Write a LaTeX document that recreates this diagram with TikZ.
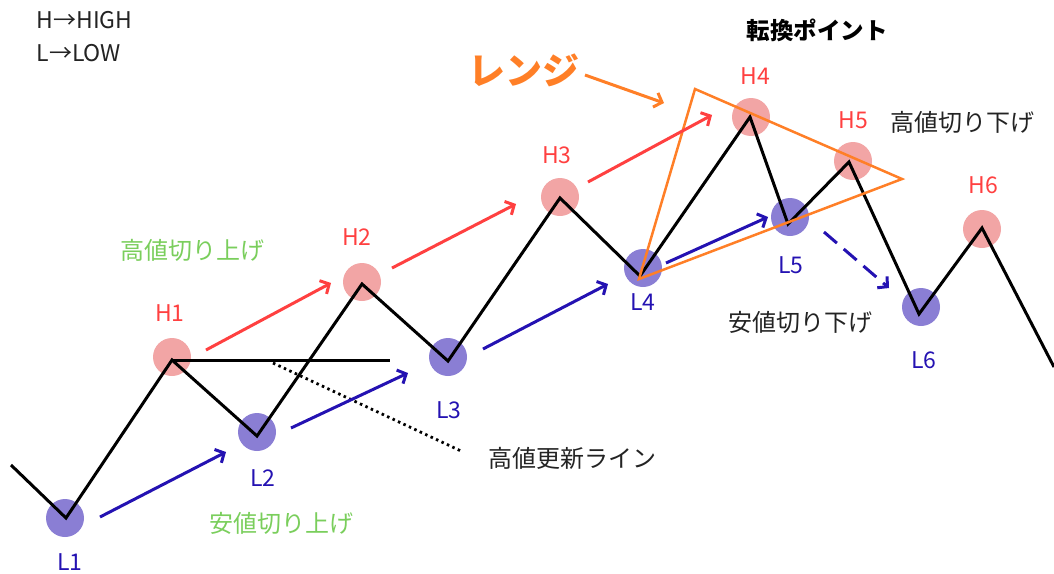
\documentclass[tikz,border=0pt]{standalone}
\usepackage{fontspec}
\setmainfont{Noto Sans CJK JP}
\usetikzlibrary{arrows.meta}
\definecolor{hred}{RGB}{255,64,64}
\definecolor{lblue}{RGB}{36,18,178}
\definecolor{hcirc}{RGB}{242,165,165}
\definecolor{lcirc}{RGB}{138,126,212}
\definecolor{upgreen}{RGB}{122,206,92}
\definecolor{rangeor}{RGB}{255,127,39}
\definecolor{txtgray}{RGB}{35,35,35}
\begin{document}
\begin{tikzpicture}[x=1pt,y=-1pt,
  hdot/.style={circle,fill=hcirc,minimum size=38pt,inner sep=0pt},
  ldot/.style={circle,fill=lcirc,minimum size=38pt,inner sep=0pt},
  hlab/.style={text=hred,font=\fontsize{23}{26}\selectfont},
  llab/.style={text=lblue,font=\fontsize{23}{26}\selectfont},
  note/.style={text=txtgray,font=\fontsize{24}{27}\selectfont},
  upnote/.style={text=upgreen,font=\fontsize{24}{27}\selectfont},
  zig/.style={line width=3pt,black,line join=miter},
  redarr/.style={line width=3pt,hred,-{Straight Barb[length=7pt,width=15pt]}},
  bluearr/.style={line width=3pt,lblue,-{Straight Barb[length=7pt,width=15pt]}},
  rangeline/.style={line width=2.5pt,rangeor,line join=miter}]
\useasboundingbox (0,0) rectangle (1054,573);
% pivot points
\coordinate (s) at (11,465);
\coordinate (l1) at (66,518);
\coordinate (h1) at (172,360);
\coordinate (l2) at (257,436);
\coordinate (h2) at (362,284);
\coordinate (l3) at (448,361);
\coordinate (h3) at (560,198);
\coordinate (l4) at (640,276);
\coordinate (h4) at (750,117);
\coordinate (l5) at (788,224);
\coordinate (h5) at (849,162);
\coordinate (l6) at (919,314);
\coordinate (h6) at (982,228);
\coordinate (e) at (1054,367);
% circles
\node[ldot] (c1) at (65,518) {};
\node[hdot] (c2) at (172,357) {};
\node[ldot] (c3) at (257,432) {};
\node[hdot] (c4) at (362,282) {};
\node[ldot] (c5) at (448,357) {};
\node[hdot] (c6) at (560,197) {};
\node[ldot] (c7) at (643,268) {};
\node[hdot] (c8) at (751,117) {};
\node[ldot] (c9) at (790,217) {};
\node[hdot] (c10) at (853,161) {};
\node[ldot] (c11) at (921,307) {};
\node[hdot] (c12) at (982,229) {};
% labels
\node[llab] (tl1) at (70,562) {L1};
\node[hlab] (th1) at (170,313) {H1};
\node[llab] (tl2) at (263,478) {L2};
\node[hlab] (th2) at (357,237) {H2};
\node[llab] (tl3) at (449,410) {L3};
\node[hlab] (th3) at (557,155) {H3};
\node[llab] (tl4) at (643,302) {L4};
\node[hlab] (th4) at (755,76) {H4};
\node[llab] (tl5) at (791,265) {L5};
\node[hlab] (th5) at (853,120) {H5};
\node[llab] (tl6) at (924,360) {L6};
\node[hlab] (th6) at (983,185) {H6};
% high update line
\coordinate (hl) at (390,360);
\draw[line width=3pt] (h1) -- (hl);
\coordinate (d1) at (273,363);
\coordinate (d2) at (461,451);
\draw[line width=2.8pt,dash pattern=on 2.5pt off 3.5pt] (d1) -- (d2);
% zigzag
\draw[zig] (s) -- (l1) -- (h1) -- (l2) -- (h2) -- (l3) -- (h3) -- (l4) -- (h4) -- (l5) -- (h5) -- (l6) -- (h6) -- (e);
% range triangle
\coordinate (ta) at (639,279);
\coordinate (tb) at (695,89);
\coordinate (tc) at (902,179);
\draw[rangeline] (ta) -- (tb) -- (tc) -- cycle;
% red arrows
\coordinate (ra1) at (206,350); \coordinate (rb1) at (331,283);
\coordinate (ra2) at (392,268); \coordinate (rb2) at (516,204);
\coordinate (ra3) at (588,182); \coordinate (rb3) at (712,115);
\draw[redarr] (ra1) -- (rb1);
\draw[redarr] (ra2) -- (rb2);
\draw[redarr] (ra3) -- (rb3);
% blue arrows
\coordinate (ba1) at (100,517); \coordinate (bb1) at (226,452);
\coordinate (ba2) at (291,428); \coordinate (bb2) at (408,373);
\coordinate (ba3) at (483,349); \coordinate (bb3) at (608,284);
\coordinate (ba4) at (666,263); \coordinate (bb4) at (768,217);
\coordinate (ba5) at (824,232); \coordinate (bb5) at (889,288);
\draw[bluearr] (ba1) -- (bb1);
\draw[bluearr] (ba2) -- (bb2);
\draw[bluearr] (ba3) -- (bb3);
\draw[bluearr] (ba4) -- (bb4);
\draw[bluearr,dash pattern=on 17pt off 9pt] (ba5) -- (bb5);
% range label and arrow
\node[text=rangeor,font=\fontsize{37}{40}\selectfont\bfseries] (range) at (524,70) {レンジ};
\coordinate (oa) at (585,75); \coordinate (ob) at (664,103);
\draw[line width=3pt,rangeor,-{Straight Barb[length=7pt,width=15pt]}] (oa) -- (ob);
% texts
\node[anchor=west,text=txtgray,font=\fontsize{23}{26}\selectfont] (leg1) at (33,20) {H→HIGH};
\node[anchor=west,text=txtgray,font=\fontsize{23}{26}\selectfont] (leg2) at (33,53) {L→LOW};
\node[text=black,font=\fontsize{23.5}{27}\selectfont\bfseries] (turn) at (817,30) {転換ポイント};
\node[note] (lhd) at (962,122) {高値切り下げ};
\node[note] (lld) at (800,322) {安値切り下げ};
\node[note] (hul) at (572,458) {高値更新ライン};
\node[upnote] (hup) at (192,250) {高値切り上げ};
\node[upnote] (lup) at (281,523) {安値切り上げ};
\end{tikzpicture}
\end{document}
